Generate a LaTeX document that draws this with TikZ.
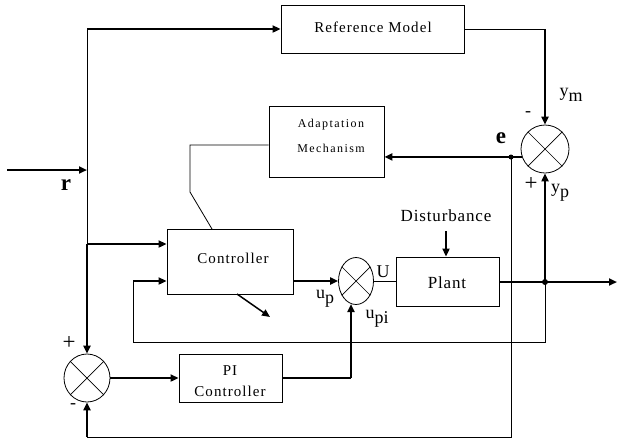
\documentclass[tikz,border=0pt]{standalone}
\usepackage{fontspec}
\setmainfont{Liberation Serif}
\usetikzlibrary{arrows.meta,shapes.geometric}
\begin{document}
\begin{tikzpicture}[x=1pt,y=-1pt,
  blkbox/.style={draw,line width=0.9pt,inner sep=0pt},
  thk/.style={line width=2pt},
  thn/.style={line width=1pt},
  tip/.style={-{Triangle[length=8pt,width=7pt]}},
  sumc/.style={draw,line width=0.8pt,ellipse,inner sep=0pt},
  boxtxt/.style={font=\fontsize{15}{21}\selectfont\addfontfeature{LetterSpace=7},align=center,inner sep=0pt},
  smalltxt/.style={font=\fontsize{12}{25}\selectfont\addfontfeature{LetterSpace=12},align=center,inner sep=0pt},
  midtxt/.style={font=\fontsize{17}{19}\selectfont\addfontfeature{LetterSpace=5},inner sep=0pt},
  lbl/.style={font=\fontsize{18}{20}\selectfont,inner sep=0pt},
  plus/.style={font=\fontsize{23}{25}\selectfont,inner sep=0pt},
  bigl/.style={font=\fontsize{23}{25}\selectfont\bfseries,inner sep=0pt}]
\useasboundingbox (0,0) rectangle (618,440);

% blocks
\node[blkbox,minimum width=183pt,minimum height=48pt] (refm) at (372.5,29) {};
\node[boxtxt] (refmt) at (373,27) {Reference Model};
\node[blkbox,minimum width=115pt,minimum height=71pt] (adapt) at (326.5,141.5) {};
\node[smalltxt] (adaptt) at (331,136) {Adaptation\\Mechanism};
\node[blkbox,minimum width=126pt,minimum height=65pt] (ctrl) at (230,261.5) {};
\node[boxtxt] (ctrlt) at (233,258) {Controller};
\node[blkbox,minimum width=103pt,minimum height=49pt] (plant) at (447.5,281.5) {};
\node[midtxt] (plantt) at (447,283) {Plant};
\node[blkbox,minimum width=103pt,minimum height=48pt] (pi) at (230.5,378) {};
\node[boxtxt] (pit) at (230,381) {PI\\Controller};
\node[midtxt] (dist) at (446,216) {Disturbance};

% summing junctions
\node[sumc,minimum width=48pt,minimum height=48pt] (s1) at (545,149) {};
\node[sumc,minimum width=35pt,minimum height=47pt] (s2) at (356,281) {};
\node[sumc,minimum width=46pt,minimum height=48pt] (s3) at (87,378) {};
\foreach \s in {s1,s2,s3}{
  \draw[line width=0.7pt] (\s.45) -- (\s.225);
  \draw[line width=0.7pt] (\s.135) -- (\s.315);
}

% coordinates
\coordinate (rin) at (7,170);
\coordinate (jr) at (87,170);
\coordinate (jtop) at (87,29);
\coordinate (jc) at (87,244);
\coordinate (cin2) at (133,281);
\coordinate (fbl) at (133,342);
\coordinate (fbr) at (545,342);
\coordinate (jy) at (545,282);
\coordinate (yout) at (617,282);
\coordinate (rmc) at (545,29);
\coordinate (je) at (511,157);
\coordinate (ebot) at (511,437);
\coordinate (lbot) at (87,437);
\coordinate (pic) at (351,378);
\coordinate (s2b) at (351,304);
\coordinate (a1) at (190,145);
\coordinate (a2) at (190,192);
\coordinate (a3) at (212,229);
\coordinate (d1) at (237,294);
\coordinate (d2) at (270,317);
\coordinate (dtop) at (446,231);

% connectors
\draw[thk,tip] (rin) -- (jr);
\draw[thn] (jtop) -- (jc);
\draw[thk,tip] (jtop) -- (refm.west);
\draw[thk,tip] (jc) -- (s3.north);
\draw[thk,tip] (jc) -- (jc -| ctrl.west);
\draw[thk,tip] (cin2) -- (cin2 -| ctrl.west);
\draw[thn] (cin2) -- (fbl) -- (fbr) -- (jy);
\draw[thk,tip] (ctrl.east |- s2.west) -- (s2.west);
\draw[thn] (s2.east) -- (s2.east -| plant.west);
\draw[thk,tip] (dtop) -- (dtop |- plant.north);
\draw[thk,tip] (jy -| plant.east) -- (yout);
\draw[thk,tip] (jy) -- (s1.south);
\draw[thn] (refm.east) -- (rmc);
\draw[thk,tip] (rmc) -- (s1.north);
\draw[thk,tip] (s1.199) -- (s1.199 -| adapt.east);
\draw[thn] (je) -- (ebot) -- (lbot);
\draw[thk,tip] (lbot) -- (s3.south);
\draw[thk,tip] (s3.east) -- (pi.west);
\draw[line width=1.4pt] (pi.east) -- (pic);
\draw[thk,tip] (pic) -- (s2b);
\draw[line width=0.8pt] (adapt.west |- a1) -- (a1) -- (a2) -- (a3);
\draw[line width=1.5pt,tip] (d1) -- (d2);
\fill (je) circle (2.5pt);
\fill (jy) circle (3pt);

% labels
\node[bigl] (lr) at (66,185) {r};
\node[bigl] (le) at (501,138) {e};
\node[lbl] (lm1) at (528,114) {-};
\node[plus] (lp1) at (531,184) {+};
\node[lbl] (lym) at (571,95) {\raisebox{5pt}{y}m};
\node[lbl] (lyp) at (560,193) {\raisebox{5pt}{y}p};
\node[lbl] (lU) at (383,272) {U};
\node[lbl] (lup) at (325,299) {\raisebox{5pt}{u}p};
\node[lbl] (lupi) at (377,319) {\raisebox{5pt}{u}pi};
\node[plus] (lp3) at (69,343) {+};
\node[lbl] (lm3) at (73,406) {-};
\end{tikzpicture}
\end{document}
